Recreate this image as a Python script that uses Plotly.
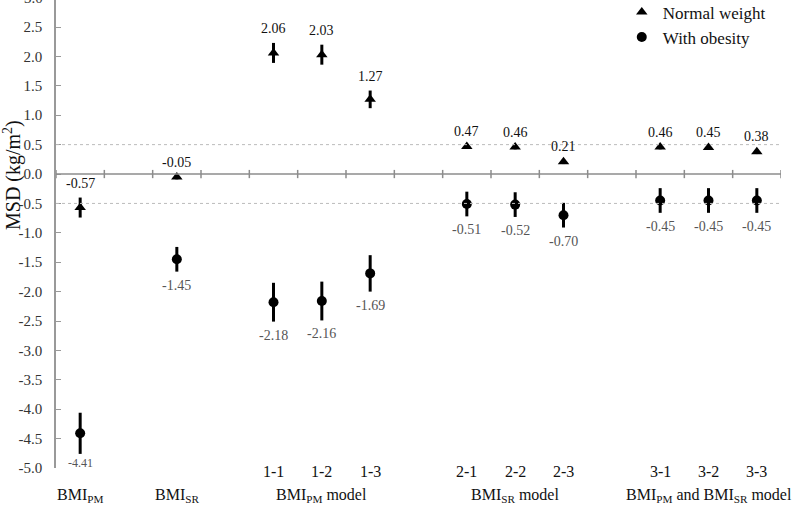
import plotly.graph_objects as go

# ---------------- data ----------------
group_labels = ["BMI<sub>PM</sub>", "BMI<sub>SR</sub>", "BMI<sub>PM</sub> model",
                "BMI<sub>SR</sub> model", "BMI<sub>PM</sub> and BMI<sub>SR</sub> model"]
group_items = [[""], [""], ["1-1", "1-2", "1-3"], ["2-1", "2-2", "2-3"], ["3-1", "3-2", "3-3"]]

normal_msd = [-0.57, -0.05, 2.06, 2.03, 1.27, 0.47, 0.46, 0.21, 0.46, 0.45, 0.38]
normal_err = [0.17, 0.04, 0.17, 0.17, 0.15, 0.04, 0.04, 0.04, 0.04, 0.04, 0.04]
obese_msd = [-4.41, -1.45, -2.18, -2.16, -1.69, -0.51, -0.52, -0.70, -0.45, -0.45, -0.45]
obese_err = [0.35, 0.21, 0.33, 0.33, 0.31, 0.21, 0.21, 0.21, 0.21, 0.21, 0.21]

y_ticks = [-5.0, -4.5, -4.0, -3.5, -3.0, -2.5, -2.0, -1.5, -1.0, -0.5, 0.0, 0.5, 1.0, 1.5, 2.0, 2.5]
y_range = [-5.0, 2.96]

# ---------------- layout of category slots (one empty slot between groups) ----------------
positions = []
group_centers = []
slot = 0
item_labels = []
for items in group_items:
    start = slot
    for it in items:
        positions.append(slot)
        item_labels.append(it)
        slot += 1
    group_centers.append((start + slot - 1) / 2)
    slot += 1
x_max = slot - 2 + 0.5

SERIF = "Liberation Serif, Times New Roman, serif"

fig = go.Figure()

fig.add_trace(go.Scatter(
    x=positions, y=normal_msd, mode="markers", name="Normal weight",
    marker=dict(symbol="triangle-up", size=10, color="black"),
    error_y=dict(type="data", array=normal_err, visible=True, color="black", thickness=3, width=0),
))
fig.add_trace(go.Scatter(
    x=positions, y=obese_msd, mode="markers", name="With obesity",
    marker=dict(symbol="circle", size=10, color="black"),
    error_y=dict(type="data", array=obese_err, visible=True, color="black", thickness=3, width=0),
))

annotations = []
for x, v, e in zip(positions, normal_msd, normal_err):
    annotations.append(dict(x=x, y=v + e, xref="x", yref="y", text=f"{v:.2f}", showarrow=False,
                            yanchor="bottom", yshift=5 if e > 0.1 else 3,
                            font=dict(family=SERIF, size=14, color="#111")))
for x, v, e in zip(positions, obese_msd, obese_err):
    small = v < -4
    annotations.append(dict(x=x, y=v - e, xref="x", yref="y", text=f"{v:.2f}", showarrow=False,
                            yanchor="top", yshift=0 if small else -4,
                            font=dict(family=SERIF, size=12 if small else 14, color="#555")))

# category item labels and group labels
for x, lab in zip(positions, item_labels):
    if lab:
        annotations.append(dict(x=x, y=0, xref="x", yref="paper", text=lab, showarrow=False,
                                yanchor="middle", yshift=-3, font=dict(family=SERIF, size=16, color="#111")))
for xc, lab in zip(group_centers, group_labels):
    annotations.append(dict(x=xc, y=0, xref="x", yref="paper", text=lab, showarrow=False,
                            yanchor="middle", yshift=-27, font=dict(family=SERIF, size=16, color="#111")))

# partially visible top tick label (3.0)
annotations.append(dict(x=0, y=(3.0 - y_range[0]) / (y_range[1] - y_range[0]), xref="paper", yref="paper",
                        text="3.0", showarrow=False, xanchor="right", xshift=-11, yanchor="middle",
                        font=dict(family=SERIF, size=15, color="#333")))

# y axis title
annotations.append(dict(x=0, y=1 - 175 / 468, xref="paper", yref="paper", text="MSD (kg/m<sup>2</sup>)",
                        showarrow=False, textangle=-90, xanchor="center", yanchor="middle",
                        xshift=-44, font=dict(family=SERIF, size=20, color="#111")))

shapes = []
for ref in (0.5, -0.5):
    shapes.append(dict(type="line", xref="paper", yref="y", x0=0, x1=1, y0=ref, y1=ref,
                       line=dict(color="#bbbbbb", width=1, dash="dot")))
shapes.append(dict(type="line", xref="paper", yref="y", x0=0, x1=1, y0=0, y1=0,
                   line=dict(color="#8c8c8c", width=1.5)))
b = -0.5
while b <= x_max + 1e-9:
    shapes.append(dict(type="line", xref="x", yref="y", x0=b, x1=b, y0=-0.07, y1=0.07,
                       line=dict(color="#8c8c8c", width=1.5)))
    b += 1

fig.update_layout(
    width=793, height=506,
    margin=dict(l=56, r=12, t=0, b=38, autoexpand=False),
    paper_bgcolor="white", plot_bgcolor="white",
    xaxis=dict(range=[-0.5, x_max], showgrid=False, zeroline=False, showticklabels=False,
               showline=False, ticks=""),
    yaxis=dict(range=y_range, tickvals=y_ticks, ticktext=[f"{t:.1f}" for t in y_ticks],
               showgrid=False, zeroline=False, showline=True, linecolor="#999999", linewidth=1.5,
               ticks="inside", ticklen=5, tickcolor="#999999", tickwidth=1.2,
               ticklabelstandoff=9,
               tickfont=dict(family=SERIF, size=15, color="#333")),
    showlegend=True,
    legend=dict(x=0.779, y=1.012, xanchor="left", yanchor="top", bgcolor="rgba(0,0,0,0)",
                font=dict(family=SERIF, size=17, color="#111"), itemwidth=32,
                tracegroupgap=0),
    annotations=annotations,
    shapes=shapes,
)

fig.write_html("out.html")
